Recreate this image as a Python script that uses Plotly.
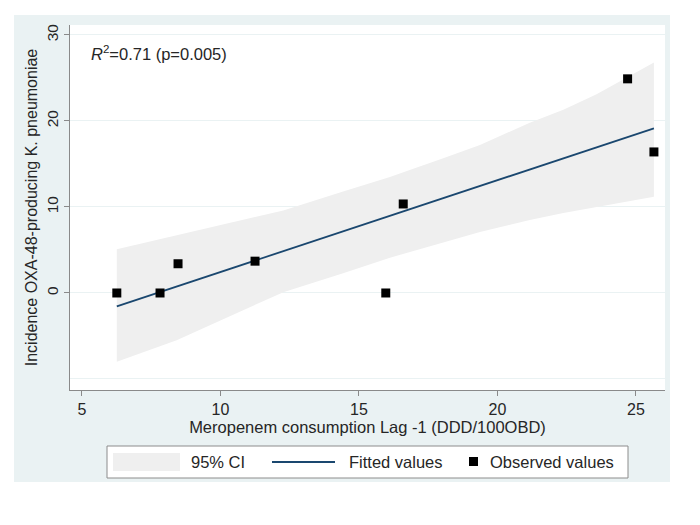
import plotly.graph_objects as go

meropenem = [6.26, 7.82, 8.47, 11.25, 15.97, 16.6, 24.7, 25.65]
incidence = [0.0, 0.0, 3.4, 3.7, 0.0, 10.35, 24.9, 16.4]

# Fitted values: two ends of the straight line
fit_x = [6.26, 25.65]
fit_y = [-1.55, 19.14]

# 95% CI band, upper and lower edge read at several x positions
ci_x = [6.26, 8.42, 10.82, 12.27, 14.43, 16.12, 18.17, 19.37, 21.17,
        22.38, 23.58, 25.65]
ci_upper = [5.1, 6.7, 8.5, 9.6, 11.8, 13.5, 15.8, 17.2, 19.8,
            21.3, 23.1, 26.8]
ci_lower = [-8.0, -5.5, -2.0, 0.1, 2.3, 4.1, 6.0, 7.1, 8.5,
            9.3, 10.0, 11.2]

x_ticks = [5, 10, 15, 20, 25]
y_ticks = [0, 10, 20, 30]

legend_labels = ["95% CI", "Fitted values", "Observed values"]

FONT = "Arial, Liberation Sans, Helvetica, sans-serif"
REGION = "#eaf2f3"
BAND = "#efefef"
NAVY = "#1a476f"
TXT = "#262626"

# page geometry: the html body adds an 8px margin around the figure
OFF = 8
W, H = 690, 515
PL, PR, PT, PB = 70, 665, 25, 390          # plot area in page pixels
PW, PH = PR - PL, PB - PT


def px(x):
    return (x - PL) / PW


def py(y):
    return (PB - y) / PH


fig = go.Figure()

fig.add_trace(go.Scatter(
    x=ci_x + ci_x[::-1], y=ci_upper + ci_lower[::-1],
    fill="toself", fillcolor=BAND, line=dict(width=0),
    mode="lines", name=legend_labels[0], hoverinfo="skip",
))
fig.add_trace(go.Scatter(
    x=fit_x, y=fit_y, mode="lines", name=legend_labels[1],
    line=dict(color=NAVY, width=1.8),
))
fig.add_trace(go.Scatter(
    x=meropenem, y=incidence, mode="markers", name=legend_labels[2],
    marker=dict(symbol="square", size=9, color="black"),
))

# Stata-style graph region + white plot region
shapes = [
    dict(type="rect", xref="paper", yref="paper", layer="below",
         x0=px(14), x1=px(670), y0=py(482), y1=py(15),
         fillcolor=REGION, line=dict(width=0)),
    dict(type="rect", xref="paper", yref="paper", layer="below",
         x0=0, x1=1, y0=0, y1=1, fillcolor="white", line=dict(width=0)),
]

# hand-built legend box below the axis title
leg_y = 462
shapes += [
    dict(type="rect", xref="paper", yref="paper",
         x0=px(107), x1=px(628), y0=py(478), y1=py(446),
         fillcolor="white", line=dict(color="#8c8c8c", width=1)),
    dict(type="rect", xref="paper", yref="paper",
         x0=px(113), x1=px(180), y0=py(471), y1=py(453),
         fillcolor=BAND, line=dict(width=0)),
    dict(type="line", xref="paper", yref="paper",
         x0=px(272), x1=px(335), y0=py(leg_y), y1=py(leg_y),
         line=dict(color=NAVY, width=1.8)),
    dict(type="rect", xref="paper", yref="paper",
         x0=px(469), x1=px(478), y0=py(leg_y + 4), y1=py(leg_y - 5),
         fillcolor="black", line=dict(width=0)),
]

annotations = [
    dict(text="<i>R</i><sup>2</sup>=0.71 (p=0.005)", xref="paper", yref="paper",
         x=px(89), y=py(53), xanchor="left", yanchor="middle",
         showarrow=False, font=dict(size=16.5, color=TXT)),
]
for label, xpix in zip(legend_labels, [189, 347, 488]):
    annotations.append(dict(
        text=label, xref="paper", yref="paper", x=px(xpix), y=py(leg_y),
        xanchor="left", yanchor="middle", showarrow=False,
        font=dict(size=16.5, color=TXT),
    ))

fig.update_layout(
    width=W, height=H,
    margin=dict(l=PL - OFF, r=W - (PR - OFF), t=PT - OFF, b=H - (PB - OFF)),
    paper_bgcolor="white", plot_bgcolor="white",
    font=dict(family=FONT, size=16, color=TXT),
    showlegend=False,
    shapes=shapes, annotations=annotations,
    xaxis=dict(
        range=[4.57, 26.05], tickvals=x_ticks, showgrid=False, zeroline=False,
        showline=True, linecolor="#8a8a8a", linewidth=1,
        ticks="outside", ticklen=5, tickcolor="#8a8a8a",
        tickfont=dict(size=16),
        title=dict(text="Meropenem consumption Lag -1 (DDD/100OBD)",
                   standoff=0, font=dict(size=16.5)),
        automargin=False,
    ),
    yaxis=dict(
        range=[-11.28, 31.16], tickvals=y_ticks, tickangle=-90,
        showgrid=True, gridcolor=REGION, gridwidth=1, zeroline=False,
        minor=dict(tickvals=[-10], showgrid=True, gridcolor=REGION, ticks=""),
        showline=True, linecolor="#8a8a8a", linewidth=1,
        ticks="outside", ticklen=5, tickcolor="#8a8a8a",
        tickfont=dict(size=15.5),
        title=dict(text="Incidence OXA-48-producing K. pneumoniae",
                   standoff=2, font=dict(size=16)),
        automargin=False,
    ),
)

fig.write_html("out.html")
